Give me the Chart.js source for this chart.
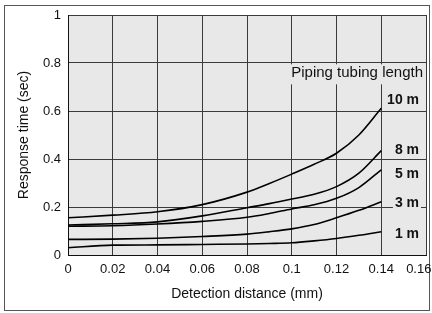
<!DOCTYPE html>
<html>
<head>
<meta charset="utf-8">
<script src="https://cdn.jsdelivr.net/npm/chart.js@4.4.1/dist/chart.umd.min.js"></script>
<style>
  html, body { margin: 0; padding: 0; background: #fff; }
  canvas { display: block; }
</style>
</head>
<body>
<canvas id="responseChart" width="432" height="313"></canvas>
<script>
// Detection distance (mm) and response time (sec) per piping tubing length
const distances = [0, 0.02, 0.04, 0.06, 0.08, 0.09, 0.1, 0.11, 0.12, 0.13, 0.14];
const tube10m = [0.155, 0.166, 0.180, 0.210, 0.262, 0.298, 0.337, 0.378, 0.424, 0.500, 0.611];
const tube8m  = [0.125, 0.130, 0.138, 0.163, 0.197, 0.214, 0.233, 0.253, 0.285, 0.341, 0.435];
const tube5m  = [0.120, 0.122, 0.129, 0.140, 0.157, 0.173, 0.192, 0.209, 0.236, 0.281, 0.355];
const tube3m  = [0.065, 0.066, 0.070, 0.077, 0.087, 0.097, 0.109, 0.127, 0.155, 0.186, 0.222];
const tube1m  = [0.030, 0.041, 0.042, 0.044, 0.046, 0.048, 0.051, 0.059, 0.069, 0.082, 0.097];
const seriesNames = ['10 m', '8 m', '5 m', '3 m', '1 m'];

const xTicks = [0, 0.02, 0.04, 0.06, 0.08, 0.1, 0.12, 0.14, 0.16];
const xTickLabels = ['0', '0.02', '0.04', '0.06', '0.08', '0.1', '0.12', '0.14', '0.16'];
const yTicks = [0, 0.2, 0.4, 0.6, 0.8, 1];
const yTickLabels = ['0', '0.2', '0.4', '0.6', '0.8', '1'];

const FONT = "'Liberation Sans', Arial, Helvetica, sans-serif";
const plotBg = '#e8e8e8';
const gridColor = '#3a3a3a';

// where the curve names sit on the value axis
const nameAnchors = [0.645, 0.4375, 0.3375, 0.216, 0.0875];

const panel = {
  id: 'panel',
  beforeDraw(chart) {
    const { ctx, chartArea: a } = chart;
    ctx.save();
    ctx.fillStyle = '#fff';
    ctx.fillRect(0, 0, chart.width, chart.height);
    ctx.strokeStyle = '#555';
    ctx.lineWidth = 1;
    ctx.strokeRect(4.5, 5.5, 425, 305);
    ctx.fillStyle = plotBg;
    ctx.fillRect(a.left, a.top, a.right - a.left, a.bottom - a.top);
    ctx.restore();
  },
  afterDraw(chart) {
    const { ctx, chartArea: a } = chart;
    const y = chart.scales.y;
    ctx.save();
    ctx.textBaseline = 'middle';
    ctx.textAlign = 'right';

    // legend title
    ctx.font = '15px ' + FONT;
    const t = 'Piping tubing length';
    const w = ctx.measureText(t).width;
    const ty = y.getPixelForValue(0.757);
    ctx.fillStyle = plotBg;
    ctx.fillRect(a.right - 3 - w - 2, ty - 9, w + 4, 20);
    ctx.fillStyle = '#111';
    ctx.fillText(t, a.right - 3, ty);

    // curve names
    ctx.font = 'bold 14px ' + FONT;
    seriesNames.forEach((name, i) => {
      const py = y.getPixelForValue(nameAnchors[i]);
      const nw = ctx.measureText(name).width;
      ctx.fillStyle = plotBg;
      ctx.fillRect(a.right - 7 - nw - 2, py - 7, nw + 4, 14);
      ctx.fillStyle = '#111';
      ctx.fillText(name, a.right - 7, py);
    });
    ctx.restore();
  }
};

function makeSeries(vals) {
  return distances.map((d, i) => ({ x: d, y: vals[i] }));
}

const datasets = [tube10m, tube8m, tube5m, tube3m, tube1m].map((vals, i) => ({
  label: seriesNames[i],
  data: makeSeries(vals),
  borderColor: '#000',
  borderWidth: 1.6,
  pointRadius: 0,
  fill: false,
  cubicInterpolationMode: 'monotone'
}));

Chart.defaults.font.family = FONT;
Chart.defaults.color = '#111';

new Chart(document.getElementById('responseChart'), {
  type: 'line',
  data: { datasets },
  options: {
    responsive: false,
    animation: false,
    devicePixelRatio: 1,
    layout: { padding: { left: 0, right: 6, top: 15, bottom: 0 } },
    plugins: {
      legend: { display: false },
      tooltip: { enabled: false }
    },
    scales: {
      x: {
        type: 'linear',
        min: 0,
        max: 0.16,
        afterBuildTicks: s => { s.ticks = xTicks.map(v => ({ value: v })); },
        afterFit: s => { s.height = 58; s.paddingRight = 0; s.paddingLeft = 0; },
        ticks: {
          font: { size: 13 },
          padding: 7,
          maxRotation: 0,
          autoSkip: false,
          // last label is pulled left so it stays inside the frame
          callback: (v, i) => i === xTicks.length - 1 ? xTickLabels[i] + '\u00a0\u00a0\u00a0\u00a0' : xTickLabels[i]
        },
        grid: { color: gridColor, lineWidth: 1, drawTicks: false },
        border: { display: true, color: '#111', width: 1 },
        title: {
          display: true,
          text: 'Detection distance (mm)',
          font: { size: 14 },
          padding: { top: 0, bottom: 10 }
        }
      },
      y: {
        min: 0,
        max: 1,
        afterBuildTicks: s => { s.ticks = yTicks.map(v => ({ value: v })); },
        afterFit: s => { s.width = 68; },
        ticks: {
          font: { size: 13 },
          padding: 7,
          autoSkip: false,
          callback: (v, i) => yTickLabels[i]
        },
        grid: { color: gridColor, lineWidth: 1, drawTicks: false },
        border: { display: true, color: '#111', width: 1 },
        title: {
          display: true,
          text: 'Response time (sec)',
          font: { size: 14 },
          padding: { top: 16, bottom: 0 }
        }
      }
    }
  },
  plugins: [panel]
});
</script>
</body>
</html>
